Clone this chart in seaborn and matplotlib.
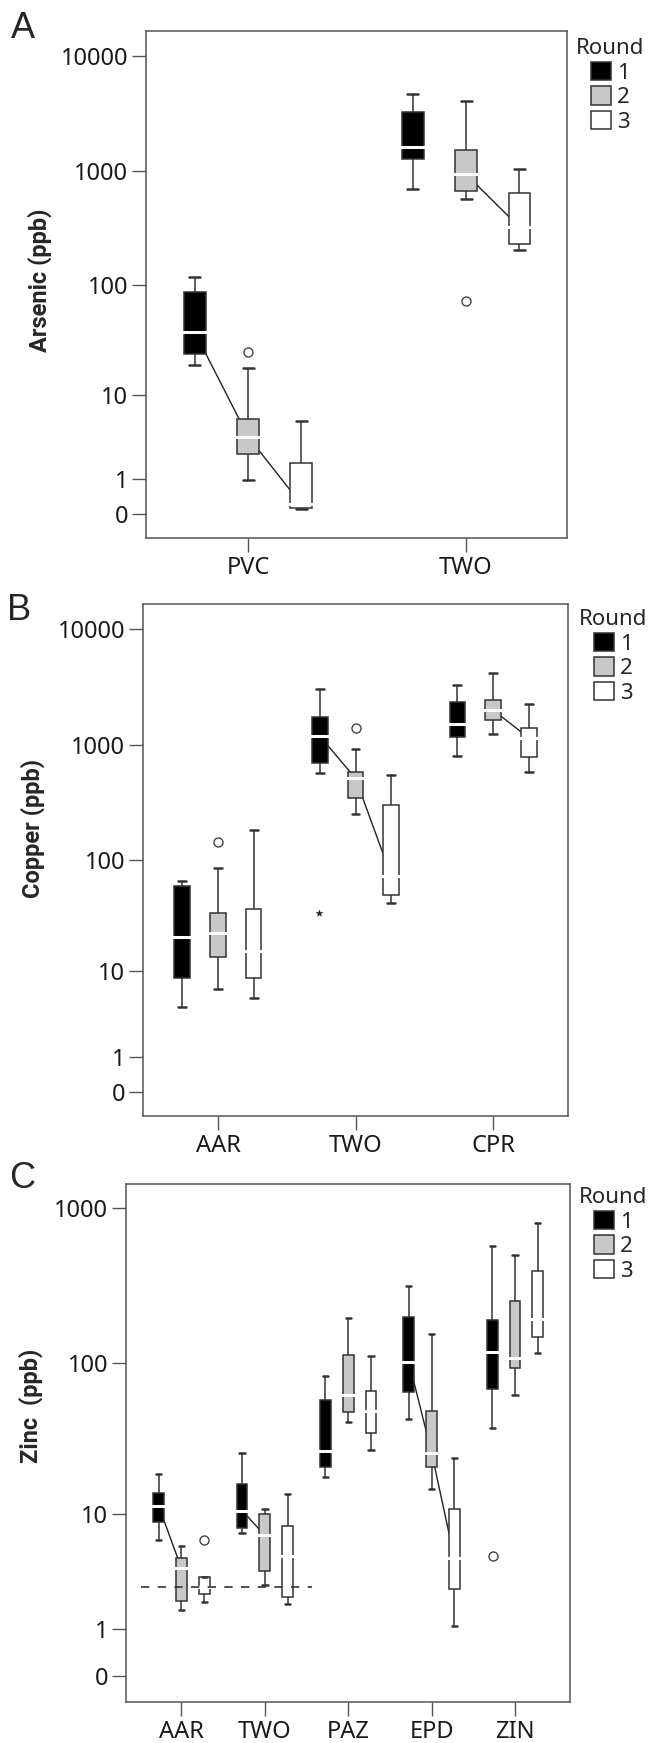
"""
Metal concentrations (arsenic, copper, zinc) by site and sampling round,
drawn as grouped box plots on a log10(x + 1) axis.
"""

import numpy as np
import pandas as pd
import matplotlib
matplotlib.use('Agg')
import matplotlib.pyplot as plt
import seaborn as sns

FIG_W, FIG_H = 654, 1743
DPI = 100

ROUNDS = ["1", "2", "3"]
ROUND_COLORS = ["#000000", "#c8c8c8", "#ffffff"]

# five-number summaries per site: (min, q1, median, q3, max), in ppb
AS_SITES = ["PVC", "TWO"]
AS_R1 = [[19, 24, 38, 85, 116], [692, 1268, 1606, 3288, 4697]]
AS_R2 = [[0.97, 2.31, 3.72, 5.7, 17.7], [563, 661, 931, 1520, 4083]]
AS_R3 = [[0.1, 0.12, 0.2, 1.79, 5.5], [200, 227, 320, 643, 1030]]
AS_OUT_SITE = ["PVC", "TWO"]
AS_OUT_ROUND = ["2", "2"]
AS_OUT_VALUE = [24.8, 72]
AS_LINK_SITE = ["PVC", "PVC", "TWO"]
AS_LINK_FROM = ["1", "2", "2"]
AS_TICKS = [0, 1, 10, 100, 1000, 10000]

CU_SITES = ["AAR", "TWO", "CPR"]
CU_R1 = [[4.4, 8.7, 20.9, 59, 65.8], [574, 694, 1196, 1757, 3035],
         [802, 1166, 1510, 2371, 3326]]
CU_R2 = [[6.7, 13.5, 22.4, 33.9, 84.6], [252, 349, 514, 586, 928],
         [1245, 1643, 2009, 2453, 4226]]
CU_R3 = [[5.4, 8.7, 15.5, 36.8, 183], [41.6, 49.3, 72.4, 302, 552],
         [580, 791, 1150, 1412, 2264]]
CU_OUT_SITE = ["AAR", "TWO"]
CU_OUT_ROUND = ["2", "2"]
CU_OUT_VALUE = [143, 1395]
CU_EXT_SITE = ["TWO"]
CU_EXT_ROUND = ["1"]
CU_EXT_VALUE = [34.3]
CU_LINK_SITE = ["TWO", "TWO", "CPR"]
CU_LINK_FROM = ["1", "2", "2"]
CU_TICKS = [0, 1, 10, 100, 1000, 10000]

ZN_SITES = ["AAR", "TWO", "PAZ", "EPD", "ZIN"]
ZN_R1 = [[6.4, 8.7, 11.3, 13.8, 18.7], [7.25, 7.9, 10.5, 15.9, 25.8],
         [17.9, 20.9, 26.8, 58, 82.4], [43.5, 64.8, 102.6, 200, 313],
         [37.9, 67.7, 118.7, 191, 574]]
ZN_R2 = [[1.66, 2.04, 3.9, 4.73, 5.8], [2.84, 3.74, 6.97, 9.9, 10.8],
         [41.6, 48.2, 62.5, 112.8, 195], [14.8, 20.9, 26, 48.6, 153.6],
         [62.5, 92.8, 108.9, 254, 496]]
ZN_R3 = [[2.0, 2.36, 2.7, 3.3, 3.3], [1.9, 2.19, 4.84, 8.2, 13.6],
         [27.1, 35, 49.1, 66.4, 112], [1.09, 2.63, 4.7, 10.8, 23.8],
         [116, 147, 193, 391, 804]]
ZN_OUT_SITE = ["AAR", "ZIN"]
ZN_OUT_ROUND = ["3", "1"]
ZN_OUT_VALUE = [6.48, 4.9]
ZN_LINK_SITE = ["AAR", "TWO", "EPD", "EPD"]
ZN_LINK_FROM = ["1", "1", "1", "2"]
ZN_TICKS = [0, 1, 10, 100, 1000]
ZN_LIMIT = 2.7
ZN_LIMIT_SITES = ["AAR", "TWO"]

LINE = "#333333"
FRAME = "#555555"


def fwd(x):
    return np.log10(np.clip(np.asarray(x, dtype=float) + 1, 1e-9, None))


def inv(t):
    return 10 ** np.asarray(t, dtype=float) - 1


def summary_frame(sites, by_round):
    rows = []
    for rnd, summaries in zip(ROUNDS, by_round):
        for site, five in zip(sites, summaries):
            for v in five:
                rows.append((site, rnd, v))
    return pd.DataFrame(rows, columns=["site", "round", "value"])


def px_axes(fig, left, top, right, bottom):
    return fig.add_axes([left / FIG_W, 1 - bottom / FIG_H,
                         (right - left) / FIG_W, (bottom - top) / FIG_H])


def draw_panel(fig, box, sites, by_round, ticks, t_lim, xlim, width, gap,
               out, links, ylabel, label_xy, letter_xy, letter, legend_xy,
               extremes=None):
    ax = px_axes(fig, *box)
    df = summary_frame(sites, by_round)

    sns.boxplot(data=df, x="site", y="value", hue="round", order=sites,
                hue_order=ROUNDS, palette=dict(zip(ROUNDS, ROUND_COLORS)),
                saturation=1, whis=(0, 100), width=width, gap=gap,
                linecolor=LINE, linewidth=1.1, fliersize=0,
                medianprops=dict(color="white", linewidth=2.2,
                                 solid_capstyle="projecting"),
                capprops=dict(linewidth=1.8), ax=ax)

    # lines joining medians of consecutive rounds (drawn under the boxes)
    slot = width / len(ROUNDS)
    for site, r0 in zip(*links):
        i = sites.index(site)
        k = ROUNDS.index(r0)
        x0 = i + (k - 1) * slot
        m0 = by_round[k][i][2]
        m1 = by_round[k + 1][i][2]
        ax.plot([x0, x0 + slot], [m0, m1], color="#222222", lw=1.0, zorder=1.5)

    o_site, o_round, o_val = out
    sns.stripplot(x=o_site, y=o_val, hue=o_round, order=sites,
                  hue_order=ROUNDS, dodge=True, jitter=False,
                  palette={r: "white" for r in ROUNDS}, edgecolor="#444444",
                  linewidth=1.0, size=6.5, legend=False, ax=ax, zorder=4)
    if extremes is not None:
        e_site, e_round, e_val = extremes
        sns.stripplot(x=e_site, y=e_val, hue=e_round, order=sites,
                      hue_order=ROUNDS, dodge=True, jitter=False,
                      palette={r: "#222222" for r in ROUNDS}, marker="*",
                      size=6, legend=False, ax=ax, zorder=4)

    ax.set_yscale("function", functions=(fwd, inv))
    ax.set_ylim(float(inv(t_lim[0])), float(inv(t_lim[1])))
    ax.set_yticks(ticks)
    ax.set_yticklabels([str(t) for t in ticks])
    ax.minorticks_off()
    ax.set_xlim(*xlim)
    ax.set_xlabel("")
    ax.set_ylabel(ylabel, fontsize=17, fontweight="bold", family="Roboto")
    ax.yaxis.label.set_va("center")
    lx, ly = label_xy
    ax.yaxis.set_label_coords((lx - box[0]) / (box[2] - box[0]),
                              (box[3] - ly) / (box[3] - box[1]))

    ax.tick_params(axis="both", direction="out", length=10, width=1.0,
                   color=FRAME, labelsize=17, pad=3, labelcolor="#1a1a1a",
                   bottom=True, left=True)
    for s in ax.spines.values():
        s.set_visible(True)
        s.set_color(FRAME)
        s.set_linewidth(1.1)

    fig.text(letter_xy[0] / FIG_W, 1 - letter_xy[1] / FIG_H, letter,
             fontsize=26, family="Liberation Sans", va="baseline", ha="left")

    sns.move_legend(ax, "upper left",
                    bbox_to_anchor=(legend_xy[0] / FIG_W, 1 - legend_xy[1] / FIG_H),
                    bbox_transform=fig.transFigure, title="Round",
                    frameon=False, fontsize=16, title_fontsize=16,
                    handlelength=0.9, handleheight=0.9, handletextpad=0.25,
                    labelspacing=0.12, borderpad=0, borderaxespad=0)
    return ax


def main():
    sns.set_theme(style="white")
    plt.rcParams["font.family"] = ["Noto Sans", "DejaVu Sans"]

    fig = plt.figure(figsize=(FIG_W / DPI, FIG_H / DPI), dpi=DPI)

    draw_panel(fig, (146, 31, 567, 538), AS_SITES, [AS_R1, AS_R2, AS_R3],
               AS_TICKS, (-0.214, 4.223), (-0.468, 1.463), 0.735, 0.59,
               (AS_OUT_SITE, AS_OUT_ROUND, AS_OUT_VALUE),
               (AS_LINK_SITE, AS_LINK_FROM), "Arsenic (ppb)",
               (40, 280), (11, 38), "A", (576, 38))

    draw_panel(fig, (143, 603.5, 568, 1116), CU_SITES, [CU_R1, CU_R2, CU_R3],
               CU_TICKS, (-0.212, 4.225), (-0.545, 2.545), 0.78, 0.565,
               (CU_OUT_SITE, CU_OUT_ROUND, CU_OUT_VALUE),
               (CU_LINK_SITE, CU_LINK_FROM), "Copper (ppb)",
               (33, 829), (7, 620), "B", (579, 609),
               extremes=(CU_EXT_SITE, CU_EXT_ROUND, CU_EXT_VALUE))

    ax_c = draw_panel(fig, (126, 1184, 570, 1702), ZN_SITES, [ZN_R1, ZN_R2, ZN_R3],
                      ZN_TICKS, (-0.167, 3.154), (-0.665, 4.66), 0.82, 0.53,
                      (ZN_OUT_SITE, ZN_OUT_ROUND, ZN_OUT_VALUE),
                      (ZN_LINK_SITE, ZN_LINK_FROM), "Zinc  (ppb)",
                      (31, 1406), (9, 1188), "C", (579, 1187))

    # dashed reference line across the first two zinc sites
    i0 = ZN_SITES.index(ZN_LIMIT_SITES[0])
    i1 = ZN_SITES.index(ZN_LIMIT_SITES[1])
    ax_c.hlines(ZN_LIMIT, i0 - 0.49, i1 + 0.57, colors="#333333",
                linestyles=(0, (5, 5)), linewidth=1.2, zorder=3)

    fig.savefig("out.png", dpi=DPI)
    plt.close(fig)


if __name__ == "__main__":
    main()
